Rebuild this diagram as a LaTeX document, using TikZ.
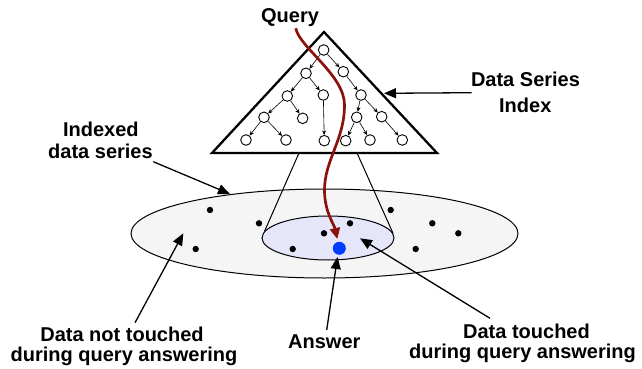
\documentclass[tikz,border=0pt]{standalone}
\usepackage{fontspec}
\setmainfont{Liberation Sans}
\usetikzlibrary{arrows.meta,shapes.geometric}
\definecolor{qred}{RGB}{139,18,10}
\definecolor{bigfill}{RGB}{245,245,245}
\definecolor{smallfill}{RGB}{230,230,250}
\definecolor{ansblue}{RGB}{0,60,255}
\begin{document}
\begin{tikzpicture}[x=1pt,y=-1pt,
  lbl/.style={font=\bfseries\fontsize{20}{24}\selectfont, inner sep=0pt, anchor=base},
  tn/.style={circle, draw, fill=white, minimum size=10.6pt, inner sep=0pt, line width=0.9pt},
  te/.style={-{Stealth[length=4.5pt,width=4pt]}, line width=0.6pt},
  dotb/.style={circle, fill=black, minimum size=6.4pt, inner sep=0pt},
  callout/.style={-{Triangle[length=12pt,width=10pt]}, line width=1.3pt},
  region/.style={ellipse, draw, line width=1pt, inner sep=0pt}
]
\useasboundingbox (0,0) rectangle (642,369);

% data ellipses
\node[region, fill=bigfill, minimum width=387pt, minimum height=89pt] (big) at (324.5,233.5) {};
% cone
\coordinate (cl) at (299,153);
\coordinate (cr) at (357,153);
\node[region, fill=smallfill, minimum width=132pt, minimum height=44pt] (small) at (328,238) {};
\draw[line width=1pt] (cl) -- (small.174);
\draw[line width=1pt] (cr) -- (small.4);

% triangle index
\coordinate (tA) at (324,32);
\coordinate (tL) at (212,153);
\coordinate (tR) at (437,153);
\draw[line width=2.3pt, fill=white, line join=miter] (tA) -- (tL) -- (tR) -- cycle;

% tree
\node[tn] (n1) at (323.7,50) {};
\node[tn] (n2) at (306,73.3) {};
\node[tn] (n3) at (343.3,71.7) {};
\node[tn] (n4) at (287.3,96) {};
\node[tn] (n5) at (323.3,95) {};
\node[tn] (n6) at (361,95) {};
\node[tn] (n7) at (264,117.3) {};
\node[tn] (n8) at (302.7,118.3) {};
\node[tn] (n9) at (356.7,117.3) {};
\node[tn] (n10) at (381.7,116.7) {};
\node[tn] (n11) at (246,140) {};
\node[tn] (n12) at (286,140) {};
\node[tn] (n13) at (324.3,140.7) {};
\node[tn] (n14) at (345.7,140.7) {};
\node[tn] (n15) at (370,140) {};
\node[tn] (n16) at (402.3,140) {};
\draw[te] (n1) -- (n2);
\draw[te] (n1) -- (n3);
\draw[te] (n2) -- (n4);
\draw[te] (n2) -- (n5);
\draw[te] (n3) -- (n6);
\draw[te] (n4) -- (n7);
\draw[te] (n4) -- (n8);
\draw[te] (n5) -- (n13);
\draw[te] (n6) -- (n9);
\draw[te] (n6) -- (n10);
\draw[te] (n7) -- (n11);
\draw[te] (n7) -- (n12);
\draw[te] (n9) -- (n14);
\draw[te] (n9) -- (n15);
\draw[te] (n10) -- (n16);

% data points
\node[dotb] (d1) at (210,210) {};
\node[dotb] (d2) at (259,223.3) {};
\node[dotb] (d3) at (195.7,249) {};
\node[dotb] (d4) at (390.7,210) {};
\node[dotb] (d5) at (432.3,223.3) {};
\node[dotb] (d6) at (458.3,233.3) {};
\node[dotb] (d7) at (415.7,249) {};
\node[dotb] (d8) at (350,223.3) {};
\node[dotb] (d9) at (324,233.3) {};
\node[dotb] (d10) at (292.7,249) {};
\node[circle, fill=ansblue, minimum size=13pt, inner sep=0pt] (ans) at (339.3,248.3) {};

% labels
\node[lbl] (q) at (290,22.7) {Query};
\node[lbl] (dsi1) at (525.5,86.7) {Data Series};
\node[lbl] (dsi2) at (525.3,112.7) {Index};
\node[lbl] (ids1) at (100.8,136.7) {Indexed};
\node[lbl] (ids2) at (100.5,158.3) {data series};
\node[lbl] (nt1) at (122,341.7) {Data not touched};
\node[lbl] (nt2) at (124,361.3) {during query answering};
\node[lbl] (an) at (324.3,348) {Answer};
\node[lbl] (t1) at (526.5,338.3) {Data touched};
\node[lbl] (t2) at (522.5,358.3) {during query answering};

% query path
\coordinate (qs) at (295.7,28.3);
\coordinate (qm1) at (344.5,105);
\coordinate (qm2) at (324.5,190);
\coordinate (qe) at (337.3,239);
\draw[qred, line width=2.7pt, -{Triangle[length=11pt,width=10pt]}]
  (qs) .. controls (300,48) and (344.5,75) .. (qm1)
       .. controls (344.5,140) and (324.5,160) .. (qm2)
       .. controls (324.5,212) and (334,224) .. (qe);

% callout arrows
\coordinate (dsiS) at (471.7,92.7);
\coordinate (dsiT) at (384,93.3);
\draw[callout] (dsiS) -- (dsiT);
\coordinate (idsS) at (153.3,161.7);
\coordinate (idsT) at (230,194);
\draw[callout] (idsS) -- (idsT);
\coordinate (ntS) at (135,322.7);
\coordinate (ntT) at (183.3,233.3);
\draw[callout] (ntS) -- (ntT);
\coordinate (anS) at (326.7,330);
\coordinate (anT) at (337.5,257);
\draw[callout] (anS) -- (anT);
\coordinate (tS) at (490,318.3);
\coordinate (tT) at (360,238.3);
\draw[callout] (tS) -- (tT);
\end{tikzpicture}
\end{document}
